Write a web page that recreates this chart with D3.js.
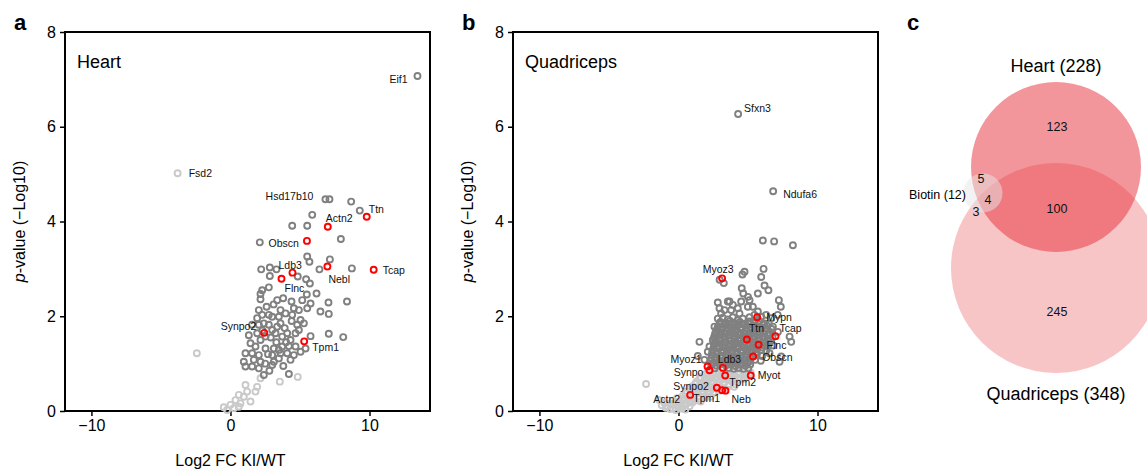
<!DOCTYPE html>
<html>
<head>
<meta charset="utf-8">
<script src="https://cdn.jsdelivr.net/npm/d3@7"></script>
<style>
  body { margin: 0; background: #fff; }
  svg { display: block; font-family: 'Liberation Sans', Arial, Helvetica, sans-serif; }
</style>
</head>
<body>
<svg id="chart" width="1147" height="470"></svg>
<script>
// ---- data ----
const xTicks = [-10, 0, 10];
const yTicks = [0, 2, 4, 6, 8];

// Heart volcano
const heartGrey = [
  [7.12, 4.47], [8.68, 4.42], [9.30, 4.23], [5.88, 4.14], [4.44, 3.91], [5.52, 3.91], [2.11, 3.56],
  [7.94, 3.63], [5.52, 3.26], [5.68, 3.15], [7.15, 3.20], [6.40, 2.99], [8.73, 3.01], [2.21, 2.99],
  [2.83, 3.03], [3.31, 2.99], [2.83, 2.85], [4.84, 2.84], [5.44, 2.78], [5.71, 2.69], [6.19, 2.48],
  [5.49, 2.46], [2.76, 2.61], [2.28, 2.55], [2.16, 2.47], [2.16, 2.36], [3.36, 2.34], [3.79, 2.38],
  [4.39, 2.31], [5.16, 2.34], [5.76, 2.27], [7.05, 2.29], [8.38, 2.31],
  [2.04, 2.13], [2.28, 2.03], [2.76, 2.03], [3.60, 2.13], [3.96, 2.06], [4.56, 2.17], [4.92, 2.13],
  [5.52, 2.17], [1.92, 1.96], [3.00, 1.99], [3.48, 1.99], [4.44, 2.03], [6.47, 2.10], [7.07, 2.05],
  [1.56, 1.82], [2.04, 1.82], [2.40, 1.85], [2.76, 1.82], [3.00, 1.71], [3.36, 1.78], [3.60, 1.85],
  [4.80, 1.82], [5.04, 1.92], [5.28, 1.85], [1.32, 1.60], [1.92, 1.64], [2.52, 1.57], [3.24, 1.64],
  [3.72, 1.57], [4.08, 1.64], [4.68, 1.64], [4.92, 1.71], [5.76, 1.58], [7.07, 1.63], [8.11, 1.56],
  [1.44, 1.43], [1.80, 1.36], [2.16, 1.50], [2.52, 1.32], [3.12, 1.32], [3.48, 1.29], [3.72, 1.36],
  [4.20, 1.37], [4.32, 1.50], [4.68, 1.36], [5.40, 1.32], [1.08, 1.22], [1.56, 1.22], [2.04, 1.18],
  [3.00, 1.18], [3.60, 1.22], [4.08, 1.22], [4.56, 1.18], [5.04, 1.25], [0.96, 1.04], [1.68, 1.08],
  [2.16, 1.04], [3.12, 1.04], [3.48, 1.11], [4.32, 1.08], [1.08, 0.94], [1.56, 0.94], [2.04, 0.90],
  [3.00, 0.97], [2.40, 0.76], [4.20, 0.78],
  [2.60, 2.20], [3.10, 2.25], [2.30, 1.70], [2.90, 1.55], [3.90, 1.75], [4.40, 1.90], [2.70, 1.20],
  [3.30, 1.45], [4.00, 1.45], [2.50, 1.00], [3.80, 0.95], [2.80, 0.85]
];
const heartPale = [
  [-2.42, 1.22], [3.55, 0.62], [4.84, 0.72], [2.16, 0.69], [1.92, 0.51], [1.08, 0.55], [1.20, 0.41],
  [0.60, 0.34], [0.96, 0.30], [1.80, 0.41], [1.44, 0.20], [0.36, 0.23], [0.72, 0.16], [0.00, 0.13],
  [-0.48, 0.08], [0.24, 0.06], [-0.24, 0.02], [0.60, 0.09]
];
const heartNamed = [
  ['Eif1', 13.45, 7.07, 'grey'], ['Fsd2', -3.80, 5.02, 'pale'], ['Hsd17b10', 6.83, 4.47, 'grey'],
  ['Ttn', 9.80, 4.10, 'red'], ['Actn2', 7.00, 3.89, 'red'], ['Obscn', 5.50, 3.59, 'red'],
  ['Ldb3', 4.46, 2.92, 'red'], ['Flnc', 3.67, 2.79, 'red'], ['Nebl', 6.97, 3.05, 'red'],
  ['Tcap', 10.30, 2.98, 'red'], ['Synpo2', 2.43, 1.65, 'red'], ['Tpm1', 5.30, 1.47, 'red']
];

// Quadriceps volcano
const quadGrey = [
  [6.07, 3.60], [6.88, 3.58], [8.23, 3.50], [6.12, 3.00], [4.75, 2.94], [4.60, 2.88], [5.95, 2.83],
  [2.96, 2.77], [3.26, 2.70], [6.19, 2.65], [6.47, 2.55], [4.55, 2.59], [5.71, 2.48], [4.66, 2.48],
  [5.00, 2.41], [7.22, 2.34], [7.36, 2.20],
  [2.83, 2.29], [3.55, 2.31], [3.91, 2.24], [4.51, 2.31], [5.11, 2.34], [2.95, 2.17], [3.31, 2.13],
  [3.79, 2.13], [4.27, 2.17], [4.99, 2.20], [5.35, 2.20], [4.39, 2.06],
  [2.83, 1.95], [3.19, 1.97], [3.55, 1.93], [3.91, 1.98], [4.27, 1.92], [4.63, 1.95], [5.11, 1.98],
  [5.47, 2.03], [5.71, 2.10], [5.95, 1.99], [6.31, 2.03], [6.67, 1.96], [7.14, 2.03],
  [6.31, 1.75], [6.79, 1.78], [7.15, 1.67], [7.99, 1.57], [8.11, 1.46], [7.27, 1.04], [7.39, 1.15],
  [6.55, 1.22], [1.51, 1.46], [1.39, 1.16], [2.23, 1.36], [2.11, 1.25], [1.87, 1.08], [2.47, 1.50],
  [2.71, 1.64], [2.59, 1.78], [2.95, 1.67], [3.07, 2.06], [3.67, 2.31],
  [3.02, 1.88], [3.38, 1.86], [3.71, 1.90], [4.06, 1.85], [4.42, 1.88], [4.77, 1.84], [5.12, 1.89],
  [5.44, 1.86], [5.81, 1.90], [6.18, 1.85],
  [2.95, 1.83], [3.30, 1.82], [3.64, 1.84], [3.99, 1.81], [4.34, 1.83], [4.70, 1.82], [5.05, 1.84],
  [5.40, 1.81], [5.75, 1.83], [6.10, 1.82], [6.50, 1.84],
  [2.84, 1.79], [3.17, 1.76], [3.52, 1.80], [3.86, 1.77], [4.21, 1.79], [4.57, 1.75], [4.92, 1.80],
  [5.26, 1.77], [5.62, 1.79], [5.96, 1.76], [6.36, 1.80], [6.70, 1.73],
  [2.78, 1.73], [3.12, 1.72], [3.47, 1.74], [3.82, 1.71], [4.17, 1.73], [4.52, 1.72], [4.87, 1.74],
  [5.22, 1.71], [5.57, 1.73], [5.92, 1.72], [6.28, 1.74],
  [2.72, 1.69], [3.06, 1.66], [3.41, 1.70], [3.77, 1.67], [4.12, 1.69], [4.46, 1.65], [4.81, 1.70],
  [5.16, 1.66], [5.52, 1.69], [5.86, 1.67], [6.21, 1.70], [6.57, 1.64],
  [2.63, 1.63], [2.98, 1.62], [3.33, 1.64], [3.68, 1.61], [4.03, 1.63], [4.38, 1.62], [4.73, 1.64],
  [5.08, 1.61], [5.43, 1.63], [5.78, 1.62], [6.13, 1.64], [6.48, 1.61],
  [2.57, 1.57], [2.92, 1.60], [3.26, 1.56], [3.61, 1.59], [3.96, 1.57], [4.31, 1.60], [4.66, 1.56],
  [5.01, 1.59], [5.36, 1.57], [5.71, 1.60], [6.06, 1.56], [6.42, 1.59], [6.77, 1.55],
  [2.62, 1.52], [2.97, 1.54], [3.32, 1.51], [3.67, 1.53], [4.02, 1.52], [4.37, 1.54], [4.72, 1.51],
  [5.07, 1.53], [5.42, 1.52], [5.77, 1.54], [6.12, 1.51], [6.47, 1.53],
  [2.71, 1.47], [3.07, 1.50], [3.42, 1.46], [3.76, 1.49], [4.11, 1.47], [4.46, 1.50], [4.82, 1.46],
  [5.17, 1.49], [5.51, 1.45], [5.87, 1.48], [6.22, 1.46], [6.61, 1.49],
  [2.62, 1.43], [2.97, 1.42], [3.32, 1.44], [3.67, 1.41], [4.02, 1.43], [4.37, 1.42], [4.72, 1.44],
  [5.07, 1.41], [5.42, 1.43], [5.77, 1.42], [6.12, 1.44], [6.52, 1.42],
  [2.56, 1.38], [2.91, 1.35], [3.26, 1.39], [3.61, 1.36], [3.96, 1.38], [4.31, 1.35], [4.66, 1.39],
  [5.02, 1.36], [5.36, 1.38], [5.66, 1.35], [6.01, 1.39], [6.41, 1.36], [6.82, 1.38],
  [2.52, 1.33], [2.87, 1.32], [3.22, 1.34], [3.57, 1.31], [3.92, 1.33], [4.27, 1.32], [4.62, 1.34],
  [4.97, 1.31], [5.32, 1.33], [5.67, 1.32], [6.02, 1.34],
  [2.46, 1.28], [2.81, 1.25], [3.16, 1.29], [3.51, 1.26], [3.86, 1.28], [4.21, 1.25], [4.56, 1.29],
  [4.91, 1.26], [5.26, 1.28], [5.61, 1.25], [5.96, 1.29], [6.31, 1.27],
  [2.42, 1.23], [2.77, 1.22], [3.12, 1.24], [3.47, 1.21], [3.82, 1.23], [4.17, 1.22], [4.52, 1.24],
  [4.87, 1.21], [5.22, 1.23], [5.57, 1.22],
  [2.41, 1.17], [2.76, 1.19], [3.11, 1.16], [3.46, 1.18], [3.81, 1.15], [4.16, 1.19], [4.51, 1.16],
  [4.86, 1.18], [5.21, 1.15], [5.62, 1.18], [6.02, 1.16],
  [2.37, 1.12], [2.72, 1.14], [3.07, 1.11], [3.42, 1.13], [3.77, 1.12], [4.12, 1.14], [4.47, 1.11],
  [4.82, 1.13], [5.17, 1.12],
  [2.31, 1.07], [2.66, 1.09], [3.01, 1.06], [3.36, 1.08], [3.71, 1.05], [4.06, 1.09], [4.41, 1.06],
  [4.76, 1.08], [5.11, 1.05], [5.52, 1.08], [5.92, 1.06],
  [2.52, 1.02], [2.87, 1.04], [3.22, 1.01], [3.57, 1.03], [3.92, 1.02], [4.27, 1.04], [4.62, 1.01],
  [4.97, 1.03],
  [2.36, 0.98], [2.71, 0.96], [3.06, 0.99], [3.41, 0.96], [3.76, 0.98], [4.11, 0.95], [4.46, 0.98],
  [4.81, 0.96], [5.16, 0.98],
  [2.62, 0.90], [3.62, 0.91], [3.97, 0.89], [4.32, 0.91], [4.67, 0.89], [5.02, 0.90]
];
const quadPale = [
  [2.1, 0.82], [2.5, 0.80], [2.9, 0.83], [3.3, 0.81], [4.0, 0.82], [4.4, 0.80], [4.8, 0.83], [5.2, 0.81],
  [1.9, 0.77], [2.3, 0.76], [2.7, 0.78], [3.1, 0.77], [3.5, 0.76], [3.9, 0.78], [4.3, 0.77], [4.7, 0.76],
  [5.1, 0.77],
  [1.6, 0.72], [2.0, 0.70], [2.4, 0.73], [2.8, 0.71], [3.2, 0.72], [3.6, 0.70], [4.0, 0.73], [4.4, 0.71],
  [4.9, 0.72],
  [1.5, 0.67], [1.9, 0.66], [2.3, 0.68], [2.7, 0.67], [3.1, 0.66], [3.5, 0.68], [3.9, 0.67], [4.3, 0.66],
  [4.7, 0.68],
  [1.3, 0.62], [1.7, 0.60], [2.1, 0.63], [2.5, 0.61], [2.9, 0.62], [3.3, 0.60], [3.8, 0.63], [4.2, 0.61],
  [1.2, 0.57], [1.6, 0.56], [2.0, 0.58], [2.4, 0.57], [2.8, 0.56], [3.2, 0.58], [3.6, 0.57], [4.1, 0.56],
  [1.0, 0.52], [1.4, 0.50], [1.8, 0.53], [2.2, 0.51], [2.6, 0.52], [3.0, 0.50], [3.6, 0.53], [4.0, 0.51],
  [0.8, 0.47], [1.2, 0.46], [1.6, 0.48], [2.0, 0.47], [2.4, 0.46], [2.8, 0.48], [3.3, 0.47],
  [0.6, 0.42], [1.0, 0.40], [1.4, 0.43], [1.8, 0.41], [2.2, 0.42], [2.6, 0.40], [3.0, 0.43],
  [0.5, 0.37], [0.9, 0.36], [1.3, 0.38], [1.7, 0.37], [2.1, 0.36], [2.5, 0.38],
  [0.3, 0.32], [0.7, 0.30], [1.1, 0.33], [1.5, 0.31], [1.9, 0.32], [2.3, 0.30],
  [-0.1, 0.27], [0.3, 0.26], [0.7, 0.28], [1.1, 0.27], [1.5, 0.26], [1.9, 0.28],
  [-0.4, 0.22], [0.0, 0.20], [0.4, 0.23], [0.8, 0.21], [1.2, 0.22], [1.6, 0.20],
  [-1.0, 0.17], [-0.6, 0.16], [-0.2, 0.18], [0.2, 0.17], [0.6, 0.16], [1.0, 0.18],
  [-1.2, 0.12], [-0.8, 0.10], [-0.4, 0.13], [0.0, 0.11], [0.4, 0.12], [0.8, 0.10],
  [-0.9, 0.07], [-0.4, 0.06], [0.0, 0.08], [0.3, 0.07],
  [-0.6, 0.04], [-0.2, 0.02], [0.2, 0.05], [0.5, 0.03], [-2.33, 0.57], [-1.37, 0.23]
];
const quadNamed = [
  ['Sfxn3', 4.29, 6.27, 'grey'], ['Ndufa6', 6.81, 4.64, 'grey'],
  ['Myoz3', 3.14, 2.80, 'red'], ['Mypn', 5.66, 1.98, 'red'], ['Ttn', 4.92, 1.51, 'red'],
  ['Tcap', 6.98, 1.58, 'red'], ['Flnc', 5.76, 1.40, 'red'], ['Obscn', 5.37, 1.15, 'red'],
  ['Ldb3', 3.19, 0.91, 'red'], ['Myoz1', 2.09, 0.94, 'red'], ['Synpo', 2.23, 0.86, 'red'],
  ['Myot', 5.20, 0.75, 'red'], ['Tpm2', 3.36, 0.75, 'red'], ['Synpo2', 2.76, 0.49, 'red'],
  ['Tpm1', 3.14, 0.44, 'red'], ['Neb', 3.38, 0.43, 'red'], ['Actn2', 0.84, 0.34, 'red']
];

// Venn
const vennSets = ['Heart', 'Quadriceps', 'Biotin'];
const vennTotals = [228, 348, 12];
const vennRegions = [['Heart', 123], ['Heart ∩ Quadriceps', 100], ['Quadriceps', 245],
  ['Biotin ∩ Heart', 5], ['Biotin ∩ Heart ∩ Quadriceps', 4], ['Biotin ∩ Quadriceps', 3]];

// ---- layout ----
const colour = { grey: '#808080', pale: '#c9c9c9', red: '#ff0000' };
const labelOffset = {
  heart: {
    Eif1: [-10, 7, 'end'], Fsd2: [11, 4, 'start'], Hsd17b10: [-12, 1, 'end'], Ttn: [2, -4, 'start'],
    Actn2: [-2, -5, 'start'], Obscn: [-8, 6, 'end'], Ldb3: [-14, -4, 'start'], Flnc: [3, 13, 'start'],
    Nebl: [1, 16, 'start'], Tcap: [9, 4, 'start'], Synpo2: [-8, -3, 'end'], Tpm1: [8, 10, 'start']
  },
  quad: {
    Sfxn3: [6, -2, 'start'], Ndufa6: [10, 7, 'start'], Myoz3: [-4, -5, 'middle'], Mypn: [9, 4, 'start'],
    Ttn: [2, -7, 'start'], Tcap: [4, -4, 'start'], Flnc: [8, 4, 'start'], Obscn: [9, 4, 'start'],
    Ldb3: [-5, -5, 'start'], Myoz1: [-6, -3, 'end'], Synpo: [-6, 6, 'end'], Myot: [7, 4, 'start'],
    Tpm2: [4, 11, 'start'], Synpo2: [-8, 2, 'end'], Tpm1: [-2, 12, 'end'], Neb: [6, 12, 'start'],
    Actn2: [-10, 8, 'end']
  }
};

const svg = d3.select('#chart');
const plotTop = 32, plotBottom = 411, plotW = 365;

const drawVolcano = (left, tag, title, grey, pale, named, offsets) => {
  const x = d3.scaleLinear().domain([-11.9, 14.35]).range([left, left + plotW]);
  const y = d3.scaleLinear().domain([0, 8]).range([plotBottom, plotTop]);
  const g = svg.append('g');

  const ax = g.append('g')
    .attr('transform', `translate(0,${plotBottom})`)
    .call(d3.axisBottom(x).tickValues(xTicks).tickSize(5).tickPadding(4));
  const ay = g.append('g')
    .attr('transform', `translate(${left},0)`)
    .call(d3.axisLeft(y).tickValues(yTicks).tickSize(5).tickPadding(4));
  [ax, ay].forEach((a) => {
    a.select('.domain').remove();
    a.selectAll('line').attr('stroke', '#000').attr('stroke-width', 1.5);
    a.selectAll('text').attr('font-size', 16).attr('fill', '#000')
      .style('font-family', "'Liberation Sans', Arial, sans-serif");
  });

  g.append('rect')
    .attr('x', left).attr('y', plotTop)
    .attr('width', plotW).attr('height', plotBottom - plotTop)
    .attr('fill', 'none').attr('stroke', '#000').attr('stroke-width', 2);

  const dots = (data, c) => g.append('g').selectAll('circle')
    .data(data).join('circle')
    .attr('cx', d => x(d[0])).attr('cy', d => y(d[1])).attr('r', 3)
    .attr('fill', 'none').attr('stroke', c).attr('stroke-width', 1.9);

  dots(pale, colour.pale);
  dots(grey, colour.grey);
  named.filter(d => d[3] !== 'red').forEach(d => dots([[d[1], d[2]]], colour[d[3]]));
  dots(named.filter(d => d[3] === 'red').map(d => [d[1], d[2]]), colour.red);

  g.append('g').selectAll('text')
    .data(named).join('text')
    .attr('x', d => x(d[1]) + offsets[d[0]][0])
    .attr('y', d => y(d[2]) + offsets[d[0]][1])
    .attr('text-anchor', d => offsets[d[0]][2])
    .attr('font-size', 10.5).attr('fill', '#111')
    .text(d => d[0]);

  g.append('text').attr('x', left + 12).attr('y', 68)
    .attr('font-size', 18).text(title);

  g.append('text').attr('x', left - 51).attr('y', 30)
    .attr('font-size', 22).attr('font-weight', 'bold').text(tag);

  g.append('text')
    .attr('x', x(0)).attr('y', 466)
    .attr('text-anchor', 'middle').attr('font-size', 16)
    .text('Log2 FC KI/WT');

  const yl = g.append('text')
    .attr('transform', `translate(${left - 40},${(plotTop + plotBottom) / 2}) rotate(-90)`)
    .attr('text-anchor', 'middle').attr('font-size', 16);
  yl.append('tspan').attr('font-style', 'italic').text('p');
  yl.append('tspan').text('-value (\u2212Log10)');
};

drawVolcano(65, 'a', 'Heart', heartGrey, heartPale, heartNamed, labelOffset.heart);
drawVolcano(513, 'b', 'Quadriceps', quadGrey, quadPale, quadNamed, labelOffset.quad);

// ---- venn ----
const r = d3.scaleSqrt().domain([0, vennTotals[0]]).range([0, 85]);
const venn = svg.append('g');
const centres = { Heart: [1056, 167], Quadriceps: [1056, 268], Biotin: [983, 193] };

venn.append('circle')
  .attr('cx', centres.Quadriceps[0]).attr('cy', centres.Quadriceps[1])
  .attr('r', r(vennTotals[1])).attr('fill', '#e52d37').attr('fill-opacity', 0.28);
venn.append('circle')
  .attr('cx', centres.Heart[0]).attr('cy', centres.Heart[1])
  .attr('r', r(vennTotals[0])).attr('fill', '#e52d37').attr('fill-opacity', 0.5);
venn.append('circle')
  .attr('cx', centres.Biotin[0]).attr('cy', centres.Biotin[1])
  .attr('r', r(vennTotals[2])).attr('fill', '#e6e6e6').attr('fill-opacity', 0.5);

venn.append('text').attr('x', 907).attr('y', 30)
  .attr('font-size', 22).attr('font-weight', 'bold').text('c');

venn.append('text').attr('x', 1056).attr('y', 72).attr('text-anchor', 'middle')
  .attr('font-size', 18).text(`${vennSets[0]} (${vennTotals[0]})`);
venn.append('text').attr('x', 1056).attr('y', 400).attr('text-anchor', 'middle')
  .attr('font-size', 18).text(`${vennSets[1]} (${vennTotals[1]})`);
venn.append('text').attr('x', 966).attr('y', 199).attr('text-anchor', 'end')
  .attr('font-size', 12.5).text(`${vennSets[2]} (${vennTotals[2]})`);

// region counts
const regionPos = [[1057, 131], [1057, 213], [1057, 316], [981, 183], [988, 204], [976, 216]];
venn.append('g').selectAll('text')
  .data(vennRegions).join('text')
  .attr('x', (d, i) => regionPos[i][0]).attr('y', (d, i) => regionPos[i][1])
  .attr('text-anchor', 'middle').attr('font-size', 12.5).attr('fill', '#111')
  .text(d => d[1]);
</script>
</body>
</html>
